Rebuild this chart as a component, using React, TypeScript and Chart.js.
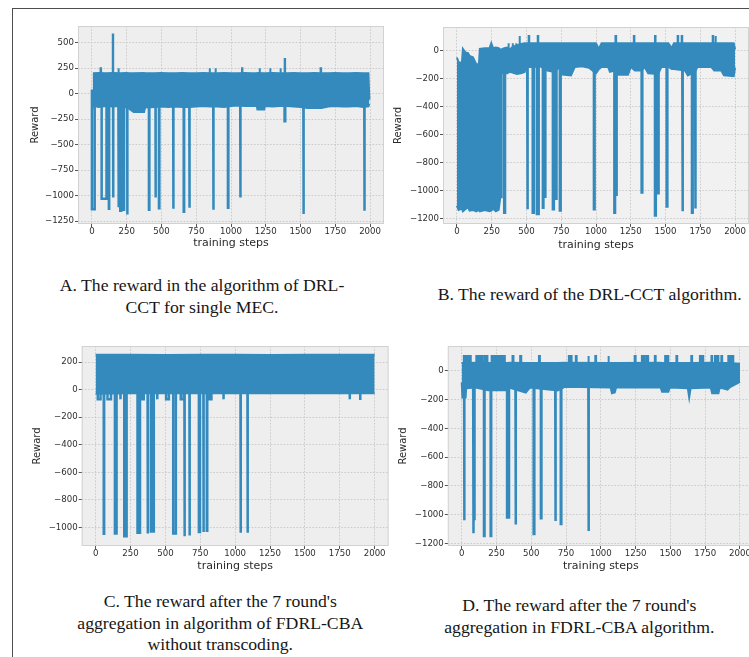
import React, { useEffect, useRef } from 'react';
import { Chart, registerables } from 'chart.js';

Chart.register(...registerables);

const BLUE = '#348ABD';

// ---------------- axis ticks ----------------
const xTickValues = [0, 250, 500, 750, 1000, 1250, 1500, 1750, 2000];
const aYTicks = [500, 250, 0, -250, -500, -750, -1000, -1250];
const bYTicks = [0, -200, -400, -600, -800, -1000, -1200];
const cYTicks = [200, 0, -200, -400, -600, -800, -1000];
const dYTicks = [0, -200, -400, -600, -800, -1000, -1200];

// ---------------- A: DRL-CCT single MEC ----------------
const aBandSteps = [0, 10, 14, 50, 100, 150, 200, 250, 270, 300, 375, 382, 450, 500, 550, 600, 650, 700, 750, 800, 850, 900, 950, 1000, 1050, 1100, 1150, 1185, 1190, 1238, 1245, 1300, 1350, 1400, 1450, 1500, 1550, 1600, 1650, 1700, 1750, 1800, 1850, 1900, 1950, 1988, 1995];
const aBandHigh = [-50, -50, 200, 202, 200, 203, 200, 202, 200, 200, 202, 200, 200, 203, 200, 200, 202, 200, 200, 203, 200, 200, 202, 200, 200, 203, 200, 200, 202, 200, 200, 203, 200, 200, 202, 200, 200, 203, 200, 200, 202, 200, 200, 203, 200, 200, -60];
const aBandLow = [-100, -100, -120, -130, -120, -125, -120, -135, -150, -180, -180, -135, -130, -125, -130, -125, -130, -130, -125, -120, -125, -125, -130, -120, -115, -120, -120, -120, -155, -155, -120, -125, -120, -120, -125, -130, -140, -140, -140, -125, -120, -125, -125, -120, -130, -125, -100];
const aSpikeFrom = [0, 62, 70, 122, 150, 152, 190, 190, 204, 228, 253, 410, 457, 482, 584, 660, 700, 845, 872, 888, 978, 1066, 1079, 1205, 1281, 1355, 1385, 1386, 1520, 1644, 1958];
const aSpikeTo = [20, 66, 105, 124, 153, 154, 193, 194, 211, 231, 256, 413, 459, 485, 587, 663, 703, 849, 875, 891, 981, 1069, 1082, 1208, 1284, 1358, 1390, 1389, 1523, 1648, 1961];
const aSpikeValue = [-1135, 250, -1030, -1130, 580, -1020, 250, -1115, -1150, -1140, -1185, -1140, -1020, -1125, -1130, -1160, -1120, 250, -1140, 250, -1120, -1020, 250, 250, 250, 250, -270, 340, -1180, 250, -1150];
const aSpikeBase = 40;

// ---------------- B: DRL-CCT ----------------
const bBandSteps = [0, 12, 36, 43, 60, 80, 91, 115, 139, 158, 165, 200, 235, 247, 260, 280, 300, 312, 318, 322, 340, 360, 380, 400, 430, 460, 487, 495, 550, 600, 650, 700, 740, 760, 820, 847, 900, 950, 1000, 1020, 1040, 1087, 1100, 1135, 1160, 1230, 1250, 1280, 1327, 1350, 1375, 1447, 1470, 1520, 1545, 1560, 1640, 1660, 1710, 1730, 1830, 1850, 1900, 1920, 1990, 2000];
const bBandHigh = [-47, -80, -85, 15, -10, -15, -35, -45, -95, -95, 15, 20, 20, 55, 20, 25, 20, 10, 10, 10, 20, 25, 10, 30, 40, 50, 55, 55, 55, 55, 55, 55, 55, 55, 55, 55, 55, 55, 55, 15, 55, 55, 55, 55, 55, 55, 55, 55, 55, 55, 55, 55, 55, 55, 20, 55, 55, 55, 55, 55, 55, 55, 55, 55, 55, 10];
const bBandLow = [-1110, -1140, -1130, -1150, -1135, -1120, -1145, -1140, -1150, -1140, -1150, -1140, -1150, -1145, -1130, -1150, -1140, -1050, -1050, -160, -150, -160, -150, -155, -165, -160, -150, -115, -115, -110, -140, -150, -115, -170, -175, -115, -110, -120, -160, -130, -115, -115, -150, -140, -170, -170, -115, -140, -140, -115, -160, -165, -115, -115, -130, -130, -140, -175, -150, -115, -115, -140, -140, -175, -180, -120];
const bSpikeFrom = [340, 370, 400, 425, 449, 505, 516, 545, 575, 581, 618, 632, 690, 712, 740, 985, 1132, 1140, 1145, 1272, 1328, 1424, 1424, 1443, 1508, 1587, 1616, 1620, 1690, 1712, 1839, 1858];
const bSpikeTo = [346, 373, 403, 428, 453, 510, 520, 553, 588, 585, 622, 636, 697, 716, 746, 990, 1137, 1145, 1150, 1276, 1333, 1430, 1428, 1450, 1513, 1591, 1620, 1625, 1695, 1717, 1843, 1862];
const bSpikeValue = [-1160, 55, 55, 55, 108, -1135, 108, -1160, -1170, 108, -1125, -1045, -1135, -1060, -1145, -1135, -1160, 108, -1040, 108, -1015, -1180, 108, -1020, -1115, 108, 108, -1150, -1160, -1130, 108, 108];
const bSpikeBase = -30;

// ---------------- C: FDRL-CBA without transcoding ----------------
const cBandSteps = [0, 250, 500, 750, 1000, 1250, 1500, 1750, 2000];
const cBandHigh = [255, 255, 252, 255, 255, 253, 255, 255, 255];
const cBandLow = [-30, -25, -25, -25, -25, -25, -25, -25, -25];
const cSpikeFrom = [15, 58, 85, 138, 175, 205, 300, 335, 372, 396, 415, 440, 505, 556, 610, 636, 672, 740, 772, 797, 815, 915, 1038, 1088, 1820, 1895];
const cSpikeTo = [35, 61, 110, 150, 180, 222, 318, 345, 375, 399, 418, 443, 525, 575, 630, 639, 675, 748, 775, 800, 830, 918, 1041, 1091, 1823, 1898];
const cSpikeValue = [-70, -1047, -70, -1045, -70, -1065, -1040, -70, -1045, -1030, -1040, -70, -70, -1045, -70, -1065, -1060, -1035, -1035, -1025, -70, -70, -1040, -1040, -70, -75];
const cSpikeBase = 100;

// ---------------- D: FDRL-CBA ----------------
const dBandSteps = [0, 5, 28, 32, 100, 190, 330, 340, 460, 490, 690, 740, 1070, 1080, 1100, 1110, 1430, 1440, 1485, 1495, 1625, 1635, 1645, 1790, 1800, 1845, 1855, 1910, 1925, 2000];
const dBandHigh = [50, 55, 55, 55, 58, 55, 55, 58, 55, 55, 55, 58, 55, 55, 55, 55, 58, 55, 55, 55, 55, 55, 55, 58, 55, 55, 55, 55, 55, 50];
const dBandLow = [-80, -185, -185, -120, -115, -135, -135, -115, -150, -115, -135, -110, -115, -155, -150, -115, -115, -145, -145, -115, -120, -185, -120, -115, -155, -155, -115, -130, -115, -75];
const dSpikeFrom = [15, 17, 35, 55, 82, 90, 105, 130, 160, 165, 208, 215, 240, 270, 295, 326, 365, 386, 420, 517, 555, 569, 672, 712, 770, 820, 908, 910, 960, 1052, 1243, 1295, 1325, 1388, 1462, 1543, 1650, 1712, 1795, 1820, 1866, 1916];
const dSpikeTo = [25, 20, 45, 65, 86, 93, 120, 150, 164, 185, 212, 230, 260, 285, 310, 340, 372, 390, 428, 522, 562, 573, 676, 716, 790, 826, 914, 914, 966, 1058, 1250, 1310, 1340, 1394, 1485, 1549, 1656, 1736, 1800, 1845, 1872, 1952];
const dSpikeValue = [105, -1040, 105, 105, -1130, -1040, 105, 105, -1150, 105, -1150, 105, 105, 105, 105, -1020, 105, -1070, 105, -1135, 105, -1025, -1045, -1065, 105, 105, 105, -1115, 105, 105, 105, 105, 105, 105, 105, 105, 105, 105, 105, 105, 105, 105];
const dSpikeBase = -25;

// ---------------- captions ----------------
const captionA = ['A. The reward in the algorithm of DRL-', 'CCT for single MEC.'];
const captionB = ['B. The reward of the DRL-CCT algorithm.'];
const captionC = ["C. The reward after the 7 round's", 'aggregation in algorithm of FDRL-CBA', 'without transcoding.'];
const captionD = ["D. The reward after the 7 round's", 'aggregation in FDRL-CBA algorithm.'];

const fmt = (v: number) => (v < 0 ? '\u2212' + Math.abs(v) : String(v));

const plotDecor = {
  id: 'plotDecor',
  beforeDraw(chart: any, _a: any, opts: any) {
    const { ctx, chartArea: a } = chart;
    ctx.save();
    ctx.fillStyle = opts.bg;
    ctx.fillRect(a.left, a.top, a.right - a.left, a.bottom - a.top);
    ctx.restore();
  },
  afterDraw(chart: any, _a: any, opts: any) {
    const { ctx, chartArea: a } = chart;
    ctx.save();
    ctx.strokeStyle = opts.frame;
    ctx.lineWidth = 1;
    ctx.strokeRect(a.left + 0.5, a.top + 0.5, a.right - a.left - 1, a.bottom - a.top - 1);
    ctx.restore();
  },
};

type Spec = {
  left: number; top: number; width: number; height: number;
  plotLeft: number; plotTop: number; plotRight: number; plotBottom: number;
  yMin: number; yMax: number; yTicks: number[];
  steps: number[]; high: number[]; low: number[];
  sFrom: number[]; sTo: number[]; sVal: number[]; sBase: number;
  bg: string;
};

function Subplot({ s }: { s: Spec }) {
  const ref = useRef<HTMLCanvasElement>(null);
  useEffect(() => {
    if (!ref.current) return;
    const highPts = s.steps.map((x, i) => ({ x, y: s.high[i] }));
    const lowPts = s.steps.map((x, i) => ({ x, y: s.low[i] }));
    const downPts: any[] = [];
    const upPts: any[] = [];
    s.sFrom.forEach((f, i) => {
      const target = s.sVal[i] > s.sBase ? upPts : downPts;
      target.push({ x: f, y: s.sBase }, { x: f, y: s.sVal[i] }, { x: s.sTo[i], y: s.sVal[i] }, { x: s.sTo[i], y: s.sBase }, { x: s.sTo[i], y: null });
    });
    const yAxisWidth = s.plotLeft - s.left;
    const xAxisHeight = s.top + s.height - s.plotBottom;
    const tickFont = { family: 'DejaVu Sans', size: 8.6 };
    const chart = new Chart(ref.current, {
      type: 'line',
      data: {
        datasets: [
          { data: highPts, borderColor: BLUE, backgroundColor: BLUE, borderWidth: 2, pointRadius: 0, tension: 0, fill: false },
          { data: lowPts, borderColor: BLUE, backgroundColor: BLUE, borderWidth: 2, pointRadius: 0, tension: 0, fill: '-1' },
          { data: downPts, borderColor: BLUE, backgroundColor: BLUE, borderWidth: 2.5, pointRadius: 0, tension: 0, fill: false, spanGaps: false },
          { data: upPts, borderColor: BLUE, backgroundColor: BLUE, borderWidth: 2, pointRadius: 0, tension: 0, fill: { value: s.sBase }, spanGaps: false },
        ],
      } as any,
      options: {
        animation: false,
        responsive: false,
        devicePixelRatio: 1,
        events: [],
        layout: { padding: { left: 0, bottom: 0, top: s.plotTop - s.top, right: s.left + s.width - s.plotRight } },
        plugins: { legend: { display: false }, tooltip: { enabled: false }, plotDecor: { bg: s.bg, frame: '#d2d2d2' } } as any,
        scales: {
          x: {
            type: 'linear', min: -100, max: 2100,
            afterBuildTicks: (sc: any) => { sc.ticks = xTickValues.map((v) => ({ value: v })); },
            afterFit: (sc: any) => { sc.height = xAxisHeight; },
            ticks: { autoSkip: false, maxRotation: 0, padding: 0, color: '#2e2e2e', font: tickFont, callback: (v: any) => fmt(Number(v)) },
            grid: { color: '#c2c2c2', lineWidth: 0.8, tickColor: '#555', tickLength: 3, tickWidth: 1, tickBorderDash: [] },
            border: { display: false, dash: [1.6, 1.6] },
            title: { display: true, text: 'training steps', color: '#2a2a2a', padding: 0, font: { family: 'DejaVu Sans', size: 11, lineHeight: 1.2 } },
          },
          y: {
            type: 'linear', min: s.yMin, max: s.yMax,
            afterBuildTicks: (sc: any) => { sc.ticks = s.yTicks.map((v) => ({ value: v })); },
            afterFit: (sc: any) => { sc.width = yAxisWidth; },
            ticks: { autoSkip: false, padding: 1, color: '#2e2e2e', font: tickFont, callback: (v: any) => fmt(Number(v)) },
            grid: { color: '#c2c2c2', lineWidth: 0.8, tickColor: '#555', tickLength: 3, tickWidth: 1, tickBorderDash: [] },
            border: { display: false, dash: [1.6, 1.6] },
            title: { display: true, text: 'Reward', color: '#2a2a2a', padding: 0, font: { family: 'DejaVu Sans', size: 10, lineHeight: 1.2 } },
          },
        },
      } as any,
      plugins: [plotDecor],
    });
    return () => chart.destroy();
  }, [s]);
  return (
    <canvas
      ref={ref}
      width={s.width}
      height={s.height}
      style={{ position: 'absolute', left: s.left, top: s.top, width: s.width, height: s.height }}
    />
  );
}

const specA: Spec = {
  left: 29, top: 16, width: 361, height: 234,
  plotLeft: 78, plotTop: 26, plotRight: 384, plotBottom: 224,
  yMin: -1279, yMax: 664, yTicks: aYTicks,
  steps: aBandSteps, high: aBandHigh, low: aBandLow,
  sFrom: aSpikeFrom, sTo: aSpikeTo, sVal: aSpikeValue, sBase: aSpikeBase, bg: '#eeeeee',
};
const specB: Spec = {
  left: 392, top: 16, width: 357, height: 236,
  plotLeft: 443, plotTop: 27, plotRight: 749, plotBottom: 224,
  yMin: -1241, yMax: 172, yTicks: bYTicks,
  steps: bBandSteps, high: bBandHigh, low: bBandLow,
  sFrom: bSpikeFrom, sTo: bSpikeTo, sVal: bSpikeValue, sBase: bSpikeBase, bg: '#f1f1f1',
};
const specC: Spec = {
  left: 31, top: 336, width: 364, height: 237,
  plotLeft: 81.7, plotTop: 346, plotRight: 388.6, plotBottom: 546,
  yMin: -1136, yMax: 318, yTicks: cYTicks,
  steps: cBandSteps, high: cBandHigh, low: cBandLow,
  sFrom: cSpikeFrom, sTo: cSpikeTo, sVal: cSpikeValue, sBase: cSpikeBase, bg: '#eeeeee',
};
const specD: Spec = {
  left: 397, top: 336, width: 357, height: 237,
  plotLeft: 447.8, plotTop: 346, plotRight: 753.9, plotBottom: 546,
  yMin: -1219, yMax: 174, yTicks: dYTicks,
  steps: dBandSteps, high: dBandHigh, low: dBandLow,
  sFrom: dSpikeFrom, sTo: dSpikeTo, sVal: dSpikeValue, sBase: dSpikeBase, bg: '#eeeeee',
};

function Caption({ lines, cx, top }: { lines: string[]; cx: number; top: number }) {
  return (
    <div
      style={{
        position: 'absolute', left: cx - 200, top, width: 400, textAlign: 'center',
        fontFamily: '"Liberation Serif", "Times New Roman", serif', fontSize: 17.7, lineHeight: '21.6px',
        color: '#161616', whiteSpace: 'nowrap',
      }}
    >
      {lines.map((l, i) => (
        <div key={i}>{l}</div>
      ))}
    </div>
  );
}

export default function App() {
  return (
    <div style={{ position: 'fixed', left: 0, top: 0, width: 749, height: 657, overflow: 'hidden', background: '#ffffff' }}>
      <div style={{ position: 'absolute', left: 12, top: 8, width: 760, height: 700, borderLeft: '1px solid #4d4d4d', borderTop: '1px solid #4d4d4d' }} />
      <Subplot s={specA} />
      <Subplot s={specB} />
      <Subplot s={specC} />
      <Subplot s={specD} />
      <Caption lines={captionA} cx={202} top={275} />
      <Caption lines={captionB} cx={589.7} top={284} />
      <Caption lines={captionC} cx={220.3} top={591} />
      <Caption lines={captionD} cx={579.3} top={595} />
    </div>
  );
}
